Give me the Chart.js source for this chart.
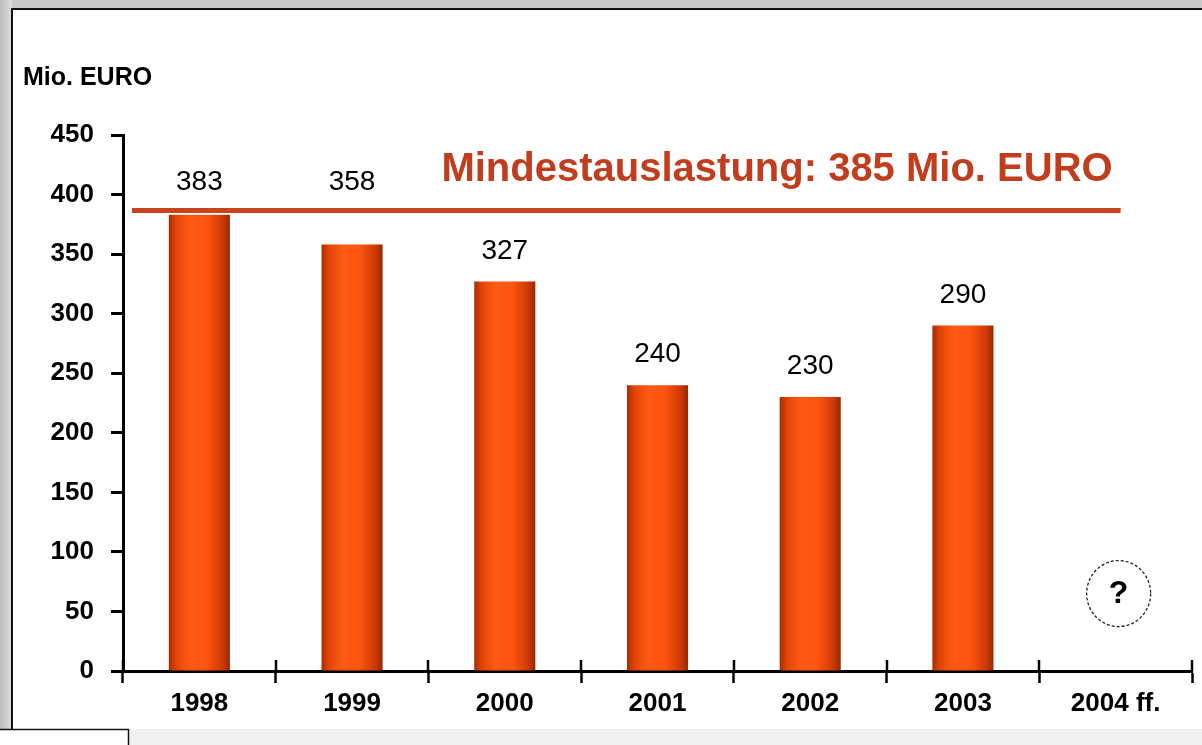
<!DOCTYPE html>
<html>
<head>
<meta charset="utf-8">
<script src="https://cdn.jsdelivr.net/npm/chart.js@4/dist/chart.umd.min.js"></script>
<style>
  html, body { margin: 0; padding: 0; background: #d0d0d0; }
  canvas { display: block; }
</style>
</head>
<body>
<canvas id="c" width="1202" height="745"></canvas>
<script>
// ---- data ----
const categories = ['1998', '1999', '2000', '2001', '2002', '2003', '2004 ff.'];
const values = [383, 358, 327, 240, 230, 290, null];
const yMin = 0;
const yMax = 450;
const yStep = 50;
const thresholdValue = 385;
const thresholdLabel = 'Mindestauslastung: 385 Mio. EURO';
const unitLabel = 'Mio. EURO';
const unknownMark = '?';
const unknownCategory = '2004 ff.';
const unknownLevel = 65;

const FONT = '"Liberation Sans", Arial, Helvetica, sans-serif';
const BAR_PCT = 0.4;

function barGradient(ctx) {
  const chart = ctx.chart;
  const xs = chart.scales && chart.scales.x;
  if (!xs || ctx.dataIndex === undefined || !isFinite(xs.left)) return '#f24f0c';
  const cx = xs.getPixelForValue(ctx.dataIndex);
  const w = (xs.right - xs.left) / categories.length * BAR_PCT;
  const g = chart.ctx.createLinearGradient(cx - w / 2, 0, cx + w / 2, 0);
  g.addColorStop(0, '#a82c00');
  g.addColorStop(0.12, '#e24406');
  g.addColorStop(0.35, '#ff5a16');
  g.addColorStop(0.62, '#ff5410');
  g.addColorStop(0.88, '#cc3a04');
  g.addColorStop(1, '#962800');
  return g;
}

const backgroundPlugin = {
  id: 'slideBackground',
  beforeDraw(chart) {
    const c = chart.ctx, W = chart.width, H = chart.height;
    c.save();
    c.fillStyle = '#c9c9c9';
    c.fillRect(0, 0, W, H);
    const lg = c.createLinearGradient(0, 0, 12, 0);
    lg.addColorStop(0, '#bdbdbd');
    lg.addColorStop(1, '#dedede');
    c.fillStyle = lg;
    c.fillRect(0, 0, 12, H);
    c.fillStyle = '#f0f0f0';
    c.fillRect(0, 729, W, H - 729);
    // white panel
    c.fillStyle = '#ffffff';
    c.fillRect(12, 9, W - 12, 720);
    c.strokeStyle = '#111';
    c.lineWidth = 2;
    c.beginPath();
    c.moveTo(12, 729);
    c.lineTo(12, 9);
    c.lineTo(W, 9);
    c.stroke();
    // small box bottom-left
    c.fillStyle = '#ffffff';
    c.fillRect(0, 729, 128, H - 729);
    c.beginPath();
    c.moveTo(0, 729.5);
    c.lineTo(128.5, 729.5);
    c.lineTo(128.5, H);
    c.lineWidth = 1.5;
    c.stroke();
    c.restore();
  }
};

const annotationPlugin = {
  id: 'annotations',
  afterDatasetsDraw(chart) {
    const c = chart.ctx;
    const xs = chart.scales.x, ys = chart.scales.y;
    const area = chart.chartArea;
    const lineY = ys.getPixelForValue(thresholdValue) - 2;
    const lineStart = area.left + 9;
    const lineEnd = xs.getPixelForValue(categories.length - 1) + 5;

    c.save();
    // upper half of x-axis cross ticks
    c.strokeStyle = '#000';
    c.lineWidth = 2.5;
    for (let i = 0; i <= categories.length; i++) {
      const px = Math.round(xs.getPixelForValue(i - 0.5));
      c.beginPath();
      c.moveTo(px, area.bottom - 11);
      c.lineTo(px, area.bottom);
      c.stroke();
    }

    // threshold line
    c.strokeStyle = '#c9441c';
    c.lineWidth = 5;
    c.beginPath();
    c.moveTo(lineStart, lineY);
    c.lineTo(lineEnd, lineY);
    c.stroke();

    // threshold label
    c.fillStyle = '#c23d1d';
    c.font = 'bold 40px ' + FONT;
    c.textAlign = 'right';
    c.textBaseline = 'alphabetic';
    c.fillText(thresholdLabel, lineEnd - 8, lineY - 29);

    // value labels
    const meta = chart.getDatasetMeta(0);
    c.fillStyle = '#000';
    c.font = '28px ' + FONT;
    c.textAlign = 'center';
    meta.data.forEach((bar, i) => {
      const v = values[i];
      if (v === null || v === undefined) return;
      let base = bar.y - 23;
      // avoid collision with threshold line: place above it
      if (base > lineY - 24 && base - 20 < lineY + 6) base = lineY - 20;
      c.fillText(String(v), bar.x, base);
    });

    // unit label
    c.font = 'bold 25px ' + FONT;
    c.textAlign = 'left';
    c.fillText(unitLabel, 23, 85);

    // question mark in circle
    const qx = xs.getPixelForValue(categories.indexOf(unknownCategory)) + 3;
    const qy = ys.getPixelForValue(unknownLevel);
    c.setLineDash([3, 2]);
    c.strokeStyle = '#222';
    c.lineWidth = 1.3;
    c.beginPath();
    c.ellipse(qx, qy, 32, 33, 0, 0, Math.PI * 2);
    c.stroke();
    c.setLineDash([]);
    c.font = 'bold 32px ' + FONT;
    c.textAlign = 'center';
    c.textBaseline = 'middle';
    c.fillText(unknownMark, qx, qy + 1);
    c.restore();
  }
};

new Chart(document.getElementById('c'), {
  type: 'bar',
  data: {
    labels: categories,
    datasets: [{
      data: values,
      backgroundColor: barGradient,
      borderWidth: 0,
      barPercentage: BAR_PCT,
      categoryPercentage: 1.0
    }]
  },
  options: {
    responsive: false,
    animation: false,
    events: [],
    layout: { padding: { top: 135, right: 10, left: 0, bottom: 0 } },
    plugins: { legend: { display: false }, tooltip: { enabled: false } },
    scales: {
      x: {
        offset: true,
        grid: {
          display: true, offset: true, drawOnChartArea: false, drawTicks: true,
          tickLength: 12, tickWidth: 2.5, tickColor: '#000'
        },
        border: { display: true, color: '#000', width: 3 },
        ticks: { color: '#000', font: { family: FONT, size: 26, weight: 'bold' }, padding: 5 },
        afterFit(s) { s.height = 74; }
      },
      y: {
        min: yMin, max: yMax,
        grid: {
          display: true, drawOnChartArea: false, drawTicks: true,
          tickLength: 12, tickWidth: 3, tickColor: '#000'
        },
        border: { display: true, color: '#000', width: 3 },
        ticks: { stepSize: yStep, color: '#000', font: { family: FONT, size: 26, weight: 'bold' }, padding: 17 },
        afterFit(s) { s.width = 123; }
      }
    }
  },
  plugins: [backgroundPlugin, annotationPlugin]
});
</script>
</body>
</html>
